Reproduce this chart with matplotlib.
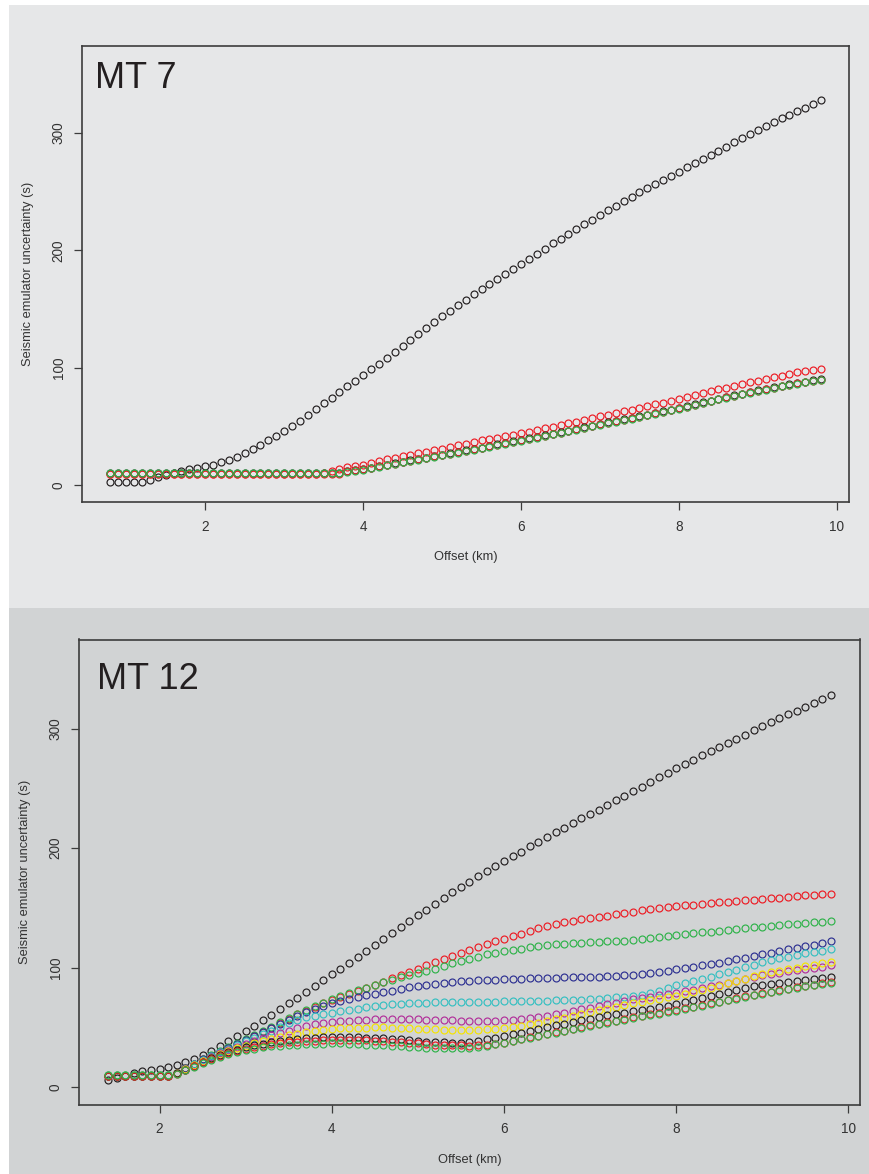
import numpy as np
import matplotlib
matplotlib.use("Agg")
import matplotlib.pyplot as plt
from matplotlib.patches import Rectangle

plt.rcParams['font.family'] = ['Liberation Sans', 'DejaVu Sans']

# ---------------- data ----------------
titles = ["MT 7", "MT 12"]
x_label = "Offset (km)"
y_label = "Seismic emulator uncertainty (s)"
x_ticks = [2, 4, 6, 8, 10]
y_ticks = [0, 100, 200, 300]

# MT 7 offsets 0.8 .. 9.8 km (step 0.1)
offset_mt7 = np.arange(8, 99) / 10.0
# MT 12 offsets 1.4 .. 9.8 km (step 0.1)
offset_mt12 = np.arange(14, 99) / 10.0

mt7_black = [2.4, 2.4, 3.0, 2.4, 2.4, 4.7, 7.0, 9.0, 10.4, 11.8, 13.3, 14.7, 16.1, 17.5, 19.5, 21.3,
             24.1, 27.0, 30.4, 34.1, 38.1, 42.0, 46.0, 50.5, 55.0, 59.5, 64.5, 69.5, 74.5, 79.3,
             84.0, 89.0, 94.0, 98.7, 103.4, 108.2, 113.3, 118.6, 124.0, 129.0, 134.0, 139.0,
             143.7, 148.4, 153.0, 157.7, 162.4, 167.0, 171.4, 175.8, 180.0, 184.0, 188.0, 192.5,
             197.0, 201.5, 206.0, 210.0, 214.0, 218.0, 222.0, 226.0, 230.0, 234.0, 238.0, 241.8,
             245.5, 249.3, 253.0, 256.5, 260.0, 263.5, 267.0, 270.5, 274.0, 277.5, 281.0, 284.6,
             288.2, 291.8, 295.5, 299.0, 302.5, 306.0, 309.5, 312.5, 315.5, 318.5, 321.5, 324.8,
             328.0]
mt7_red = [9.5] * 27 + [10.5, 12.0, 13.8, 15.5, 16.5, 17.5, 19.0, 20.5, 22.0, 23.0, 24.5, 26.0,
           27.2, 28.3, 29.5, 31.0, 32.5, 33.8, 35.2, 36.5, 38.0, 39.2, 40.5, 41.8, 43.0, 44.3,
           45.6, 46.8, 48.3, 49.7, 51.2, 52.6, 54.1, 55.6, 57.1, 58.6, 60.0, 61.4, 62.8, 64.2,
           65.7, 67.2, 68.7, 70.2, 71.7, 73.2, 74.8, 76.5, 78.2, 80.0, 81.5, 83.0, 84.5, 86.0,
           87.5, 89.0, 90.4, 91.8, 93.2, 94.6, 95.9, 97.0, 98.1, 99.2]
mt7_black2 = [10.0] * 30 + [12.0, 12.8, 13.6, 14.9, 16.2, 17.4, 18.6, 19.9, 21.1, 22.3, 23.5,
              24.7, 25.9, 27.1, 28.3, 29.5, 30.7, 32.0, 33.3, 34.6, 35.9, 37.2, 38.5, 39.8, 41.1,
              42.4, 43.7, 45.0, 46.4, 47.8, 49.2, 50.6, 52.1, 53.4, 54.7, 56.0, 57.3, 58.6, 60.0,
              61.4, 62.8, 64.2, 65.6, 67.2, 68.8, 70.4, 72.0, 73.5, 75.0, 76.5, 77.9, 79.3, 80.7,
              82.0, 83.3, 84.6, 85.8, 87.0, 88.1, 89.1, 90.1]
mt7_red2 = [9.6] * 30 + [11.8, 12.5, 13.3, 14.6, 15.9, 17.1, 18.3, 19.6, 20.8, 22.0, 23.2, 24.4,
            25.6, 26.8, 28.0, 29.2, 30.4, 31.7, 33.0, 34.3, 35.6, 36.9, 38.2, 39.5, 40.8, 42.1,
            43.4, 44.7, 46.1, 47.5, 48.9, 50.3, 51.8, 53.1, 54.4, 55.7, 57.0, 58.3, 59.7, 61.1,
            62.5, 63.9, 65.3, 66.9, 68.5, 70.1, 71.7, 73.2, 74.7, 76.2, 77.6, 79.0, 80.4, 81.7,
            83.0, 84.3, 85.5, 86.7, 87.8, 88.8, 89.8]
mt7_green2 = [10.5] * 30 + [11.5, 12.2, 13.0, 14.3, 15.6, 16.8, 18.0, 19.3, 20.5, 21.7, 22.9,
              24.1, 25.3, 26.5, 27.7, 28.9, 30.1, 31.4, 32.7, 34.0, 35.3, 36.6, 37.9, 39.2, 40.5,
              41.8, 43.1, 44.4, 45.8, 47.2, 48.6, 50.0, 51.5, 52.8, 54.1, 55.4, 56.7, 58.0, 59.4,
              60.8, 62.2, 63.6, 65.0, 66.6, 68.2, 69.8, 71.4, 72.9, 74.4, 75.9, 77.3, 78.7, 80.1,
              81.4, 82.7, 84.0, 85.2, 86.4, 87.5, 88.5, 89.5]

mt12_black = [6.0, 8.0, 10.0, 12.0, 13.7, 14.5, 15.6, 17.0, 19.0, 21.5, 23.7, 27.0, 30.7, 34.9,
              39.0, 43.3, 47.5, 51.7, 56.5, 60.9, 65.6, 70.4, 75.0, 79.8, 85.0, 89.8, 94.5, 99.3,
              104.2, 109.1, 114.0, 119.0, 124.0, 129.0, 134.0, 139.0, 144.0, 148.5, 153.0, 158.0,
              163.0, 167.5, 172.0, 176.5, 181.0, 185.0, 189.0, 193.1, 197.2, 201.4, 205.5, 209.4,
              213.3, 217.1, 221.0, 224.8, 228.5, 232.3, 236.0, 239.9, 243.8, 247.6, 251.5, 255.4,
              259.3, 263.1, 267.0, 270.5, 274.0, 277.5, 281.0, 284.5, 288.0, 291.5, 295.0, 298.5,
              302.0, 305.5, 309.0, 312.0, 315.0, 318.0, 321.0, 324.5, 328.0]
mt12_red = [9.5] * 8 + [12.3, 16.0, 19.5, 23.5, 26.5, 30.0, 33.0, 36.5, 40.0, 43.0, 46.5, 50.0,
            54.0, 57.5, 61.0, 64.0, 67.5, 70.5, 73.5, 76.0, 78.5, 81.0, 83.5, 86.0, 88.5, 91.2,
            93.8, 96.3, 98.8, 102.0, 105.0, 107.5, 110.0, 112.5, 115.0, 117.5, 120.0, 122.0,
            124.0, 126.3, 128.6, 131.0, 133.2, 135.0, 136.5, 138.0, 139.2, 140.4, 141.5, 142.5,
            143.5, 144.6, 145.7, 146.8, 148.0, 149.0, 150.0, 150.8, 151.5, 152.2, 152.9, 153.5,
            154.1, 154.7, 155.3, 155.9, 156.5, 157.0, 157.5, 158.1, 158.7, 159.3, 159.9, 160.5,
            161.0, 161.5, 162.0]
mt12_green = [10.5] * 8 + [12.5, 16.5, 20.0, 24.0, 27.0, 30.5, 33.5, 37.0, 40.5, 43.5, 47.0,
              50.5, 54.5, 58.0, 61.5, 64.5, 68.0, 71.0, 74.0, 76.5, 79.0, 81.3, 83.5, 85.8, 88.0,
              90.0, 92.0, 94.0, 96.0, 97.7, 99.4, 101.6, 103.9, 105.5, 107.2, 109.3, 111.4,
              112.8, 114.2, 115.2, 116.1, 117.3, 118.4, 119.1, 119.8, 120.2, 120.6, 120.9, 121.2,
              121.6, 122.0, 122.4, 122.8, 123.4, 124.0, 124.9, 125.8, 126.7, 127.5, 128.2, 128.9,
              129.6, 130.3, 131.0, 131.7, 132.4, 133.1, 133.8, 134.5, 135.1, 135.7, 136.3, 136.9,
              137.5, 138.0, 138.5, 139.0]
mt12_blue = [10.0] * 8 + [12.3, 16.0, 19.5, 23.5, 26.5, 30.0, 33.0, 36.5, 40.0, 43.0, 46.0,
             49.5, 53.0, 56.5, 60.0, 63.0, 66.0, 68.5, 70.5, 72.3, 74.0, 75.5, 77.0, 78.3, 79.5,
             81.0, 82.5, 83.7, 84.9, 85.8, 86.8, 87.5, 88.2, 88.6, 89.0, 89.5, 89.9, 90.2, 90.5,
             90.7, 91.0, 91.2, 91.3, 91.6, 91.8, 92.0, 92.1, 92.3, 92.4, 92.7, 93.0, 93.4, 93.8,
             94.2, 94.6, 95.5, 96.5, 97.7, 99.0, 100.0, 101.0, 102.0, 103.0, 104.0, 105.5, 107.0,
             108.5, 110.0, 111.5, 112.8, 114.1, 115.4, 116.7, 118.0, 119.4, 120.7, 122.0]
mt12_cyan = [10.0] * 8 + [12.2, 15.8, 19.2, 23.0, 26.0, 29.5, 32.5, 35.5, 38.5, 41.5, 44.5,
             47.5, 50.5, 53.5, 56.0, 58.5, 60.0, 61.2, 62.3, 63.5, 64.8, 66.0, 67.3, 68.3, 69.0,
             69.5, 70.0, 70.5, 70.9, 71.0, 71.1, 71.2, 71.3, 71.4, 71.5, 71.6, 71.7, 71.8, 71.9,
             72.0, 72.1, 72.2, 72.4, 72.6, 72.8, 73.0, 73.3, 73.5, 73.8, 74.2, 74.7, 75.3, 75.9,
             76.6, 77.5, 79.2, 81.0, 83.0, 85.5, 87.3, 89.1, 90.9, 92.7, 94.5, 96.5, 98.5, 100.5,
             102.7, 104.8, 106.3, 107.8, 109.2, 110.6, 112.0, 113.2, 114.4, 115.5]
mt12_magenta = [9.8] * 8 + [12.0, 15.5, 19.0, 22.5, 25.5, 28.7, 31.5, 34.0, 36.5, 39.0, 41.5,
                43.5, 45.5, 47.5, 49.5, 51.3, 52.8, 53.8, 54.7, 55.3, 55.8, 56.3, 56.8, 57.2,
                57.5, 57.5, 57.5, 57.3, 57.0, 56.7, 56.4, 56.2, 56.0, 55.8, 55.6, 55.6, 55.6,
                55.8, 56.1, 56.8, 57.5, 58.3, 59.2, 60.1, 61.1, 62.5, 63.9, 65.3, 66.7, 68.1,
                69.5, 70.9, 72.3, 73.7, 75.0, 76.0, 77.0, 78.0, 79.0, 80.4, 81.8, 83.2, 84.6,
                86.0, 87.6, 89.2, 90.8, 92.4, 94.0, 95.0, 96.0, 97.0, 98.0, 99.0, 100.0, 101.0,
                102.0]
mt12_yellow = [9.8] * 8 + [12.0, 15.3, 18.7, 22.0, 25.0, 28.0, 30.5, 33.0, 35.0, 37.0, 38.8,
               40.5, 42.0, 43.5, 45.0, 46.3, 47.5, 48.3, 48.9, 49.3, 49.6, 49.9, 50.1, 50.2,
               50.2, 50.0, 49.8, 49.5, 49.1, 48.8, 48.6, 48.3, 48.0, 48.0, 48.0, 48.3, 48.6,
               49.1, 49.7, 50.5, 51.4, 52.8, 54.2, 55.6, 57.0, 58.3, 59.7, 61.4, 63.1, 64.5,
               65.9, 67.4, 68.9, 70.3, 71.6, 72.8, 74.0, 75.2, 76.4, 78.1, 79.8, 81.5, 83.2,
               85.0, 87.0, 89.0, 91.0, 93.0, 95.0, 96.3, 97.6, 98.9, 100.2, 101.5, 102.7, 103.9,
               105.0]
mt12_black2 = [10.0] * 8 + [11.8, 15.0, 18.3, 21.5, 24.3, 27.0, 29.3, 31.5, 33.5, 35.2, 36.7,
               38.0, 39.0, 39.8, 40.5, 41.0, 41.5, 41.8, 42.0, 42.0, 42.0, 41.8, 41.6, 41.3,
               41.0, 40.6, 40.2, 39.5, 38.8, 38.3, 37.9, 37.6, 37.4, 37.5, 37.9, 39.0, 40.2,
               41.6, 43.0, 44.4, 45.8, 47.4, 49.1, 50.5, 51.9, 53.3, 54.7, 56.1, 57.5, 58.9,
               60.3, 61.4, 62.5, 63.7, 64.9, 66.0, 67.0, 68.0, 69.5, 71.2, 72.9, 74.6, 76.3,
               78.0, 79.6, 81.2, 82.8, 84.4, 86.0, 86.8, 87.6, 88.4, 89.2, 90.0, 90.8, 91.6, 92.5]
mt12_red2 = [9.3] * 8 + [11.5, 14.7, 18.0, 21.0, 23.7, 26.2, 28.5, 30.5, 32.3, 33.8, 35.0,
             36.0, 36.9, 37.6, 38.2, 38.7, 39.1, 39.5, 39.8, 40.0, 40.0, 39.8, 39.6, 39.2, 38.8,
             38.3, 37.9, 37.3, 36.8, 36.3, 35.9, 35.6, 35.3, 35.1, 35.0, 35.4, 35.9, 36.6, 37.4,
             38.8, 40.4, 41.9, 43.4, 44.8, 46.2, 47.6, 49.0, 50.4, 51.8, 53.2, 54.6, 55.9, 57.2,
             58.5, 59.8, 61.1, 62.3, 63.5, 64.7, 66.1, 67.5, 68.9, 70.3, 71.7, 73.2, 74.7, 76.1,
             77.5, 78.9, 80.2, 81.5, 82.7, 83.9, 85.0, 86.0, 87.0, 87.8]
mt12_green2 = [10.8] * 8 + [11.2, 14.3, 17.5, 20.5, 23.0, 25.5, 27.6, 29.5, 31.2, 32.5, 33.5,
               34.3, 35.0, 35.5, 35.9, 36.2, 36.5, 36.7, 36.9, 36.9, 36.5, 36.1, 35.9, 35.6,
               35.3, 35.0, 34.6, 34.2, 33.7, 33.4, 33.2, 32.9, 32.6, 32.8, 33.2, 33.9, 34.6,
               36.0, 37.4, 38.8, 40.2, 41.6, 43.0, 44.4, 45.8, 47.2, 48.6, 50.0, 51.4, 52.8,
               54.2, 55.5, 56.8, 58.1, 59.4, 60.6, 61.8, 63.0, 64.2, 65.6, 67.0, 68.4, 69.8,
               71.2, 72.7, 74.2, 75.6, 77.0, 78.4, 79.7, 81.0, 82.2, 83.4, 84.5, 85.5, 86.4, 87.2]

# ---------------- style ----------------
C_BLACK = '#231f20'
C_RED = '#ed1c24'
C_GREEN = '#2fb34a'
C_BLUE = '#2e3192'
C_CYAN = '#35bfc1'
C_MAGENTA = '#b2309a'
C_YELLOW = '#f5e400'

mt7_series = [(mt7_black, C_BLACK), (mt7_red, C_RED), (mt7_black2, C_BLACK),
              (mt7_red2, C_RED), (mt7_green2, C_GREEN)]
mt12_series = [(mt12_black, C_BLACK), (mt12_red, C_RED), (mt12_green, C_GREEN),
               (mt12_blue, C_BLUE), (mt12_cyan, C_CYAN), (mt12_magenta, C_MAGENTA),
               (mt12_yellow, C_YELLOW), (mt12_black2, C_BLACK), (mt12_red2, C_RED),
               (mt12_green2, C_GREEN)]

W, H = 870, 1174
fig = plt.figure(figsize=(W / 100, H / 100), dpi=100, facecolor='white')

# panel backgrounds (pixel coords from top-left), drawn behind the axes
def px_rect(x0, y0, x1, y1, color):
    fig.patches.append(Rectangle((x0 / W, 1 - y1 / H), (x1 - x0) / W, (y1 - y0) / H,
                                 transform=fig.transFigure, facecolor=color,
                                 edgecolor='none', zorder=-10))

px_rect(9, 5, 870, 608, '#e6e7e8')
px_rect(9, 608, 870, 1174, '#d1d3d4')

def ax_from_px(left, top, right, bottom):
    ax = fig.add_axes([left / W, 1 - bottom / H, (right - left) / W, (bottom - top) / H])
    ax.set_zorder(5)
    return ax

TEXT_C = '#231f20'
SPINE_C = '#3c3c3c'

def style_axes(ax, xlim, title, title_pos, ylabel_x_px, xlabel_y_px, box):
    left, top, right, bottom = box
    ax.patch.set_visible(False)
    ax.set_xlim(*xlim)
    ax.set_ylim(-14.4, 374.4)
    ax.set_xticks(x_ticks)
    ax.set_yticks(y_ticks)
    ax.set_xticklabels([str(t) for t in x_ticks])
    ax.set_yticklabels([str(t) for t in y_ticks], rotation=90, va='center')
    for s in ax.spines.values():
        s.set_color(SPINE_C)
        s.set_linewidth(1.2)
    ax.tick_params(direction='out', length=5.8, width=0.9, color=SPINE_C,
                   labelsize=9.8, labelcolor='#333333')
    ax.tick_params(axis='x', pad=7)
    ax.tick_params(axis='y', pad=6)
    ax.text(title_pos[0], title_pos[1], title, transform=ax.transAxes, ha='left',
            va='baseline', fontsize=26, color=TEXT_C)
    wpx = right - left
    hpx = bottom - top
    ax.text(0.5, -(xlabel_y_px - bottom) / hpx, x_label, transform=ax.transAxes,
            ha='center', va='center', fontsize=9.3, color='#333333')
    ax.text(-(left - ylabel_x_px) / wpx, 0.5, y_label, transform=ax.transAxes,
            ha='center', va='center', rotation=90, fontsize=9.3, color='#333333')

# ---------------- MT 7 ----------------
box7 = (82, 45.5, 849.5, 502)
ax1 = ax_from_px(*box7)
for vals, col in mt7_series:
    ax1.plot(offset_mt7, vals, linestyle='none', marker='o', markerfacecolor='none',
             markeredgecolor=col, markersize=5.0, markeredgewidth=0.85)
style_axes(ax1, (0.44, 10.16), titles[0], (0.017, 0.907), 28, 557, box7)

# ---------------- MT 12 ----------------
box12 = (79, 639.5, 860, 1104.7)
ax2 = ax_from_px(*box12)
for vals, col in mt12_series:
    ax2.plot(offset_mt12, vals, linestyle='none', marker='o', markerfacecolor='none',
             markeredgecolor=col, markersize=5.0, markeredgewidth=0.85)
style_axes(ax2, (1.064, 10.136), titles[1], (0.023, 0.8936), 25, 1160, box12)

fig.savefig('out.png', dpi=100, facecolor='white')
